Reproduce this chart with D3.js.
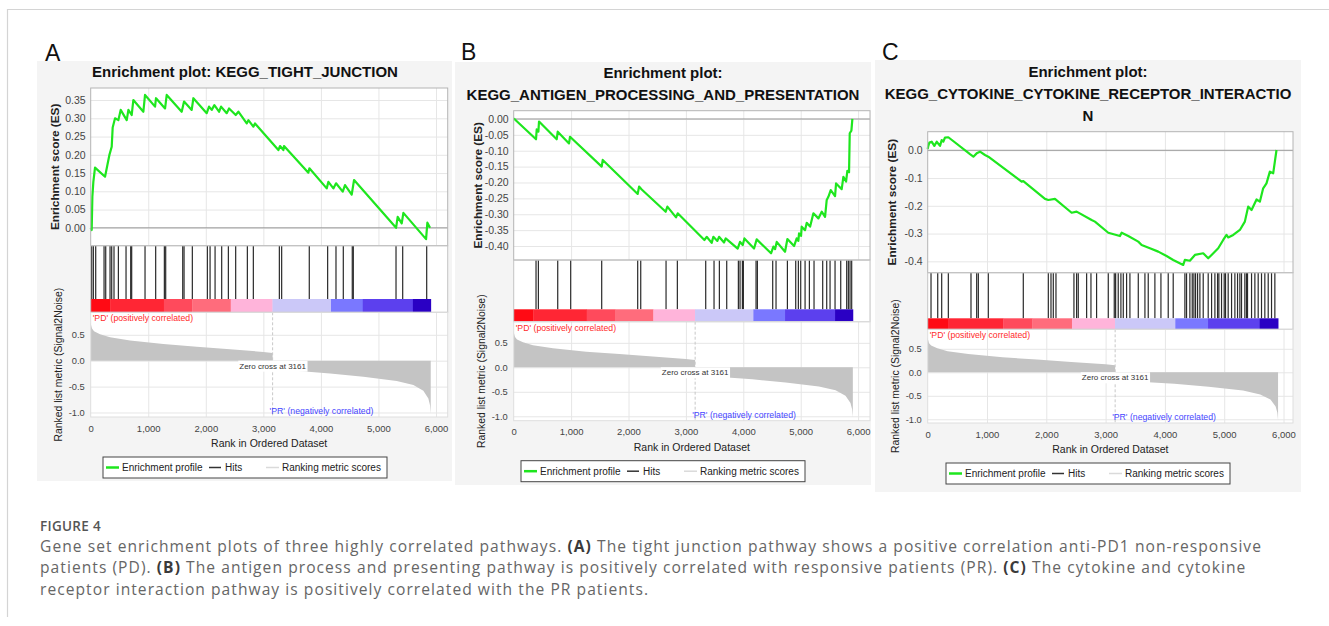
<!DOCTYPE html>
<html>
<head>
<meta charset="utf-8">
<style>
  body { margin:0; background:#fff; }
  text { font-family:"Liberation Sans", Arial, sans-serif; }
  .cap { font-family:"Open Sans", sans-serif; }
</style>
</head>
<body>
<script src="https://d3js.org/d3.v7.min.js"></script>
<script>

// DATA
var xTicks = [0, 1000, 2000, 3000, 4000, 5000, 6000];
var metricTicks = [0.5, 0, -0.5, -1.0];
var esTicksA = [0, 0.05, 0.10, 0.15, 0.20, 0.25, 0.30, 0.35];
var esTicksB = [0, -0.05, -0.10, -0.15, -0.20, -0.25, -0.30, -0.35, -0.40];
var esTicksC = [0, -0.1, -0.2, -0.3, -0.4];
var zeroCross = 3161;

// ranked list metric (Signal2Noise), shared by the three plots
var metricPts = [[0,0.74],[6,0.69],[23,0.62],[58,0.57],[162,0.51],[336,0.45],[684,0.39],[1263,0.32],
  [1842,0.27],[2421,0.22],[3000,0.17],[3160,0.15],[3161,0],[3162,-0.16],[3724,-0.21],[4159,-0.245],
  [4738,-0.31],[5317,-0.39],[5607,-0.47],[5780,-0.58],[5867,-0.73],[5896,-0.86],[5908,-1.02]];

// heat bar band edges (rank)
var bandEdges = [0, 343, 1272, 1765, 2433, 3159, 4175, 4727, 5598, 5910];

var esA = [[0,0],[17,-0.006],[29,0.085],[46,0.126],[75,0.165],[249,0.140],[290,0.172],[324,0.199],[365,0.222],
  [382,0.275],[423,0.300],[481,0.295],[521,0.323],[626,0.295],[655,0.323],[712,0.309],[741,0.350],[915,0.318],
  [944,0.364],[1118,0.332],[1135,0.355],[1292,0.327],[1321,0.364],[1581,0.318],[1622,0.346],[1755,0.323],
  [1784,0.355],[2016,0.314],[2056,0.332],[2103,0.323],[2149,0.336],[2230,0.318],[2265,0.332],[2363,0.314],
  [2404,0.327],[2520,0.309],[2566,0.318],[2711,0.286],[2740,0.295],[2826,0.277],[2855,0.286],[3261,0.213],
  [3290,0.224],[3348,0.213],[3359,0.224],[3782,0.151],[3800,0.163],[4101,0.108],[4130,0.126],[4217,0.108],
  [4263,0.122],[4379,0.099],[4419,0.117],[4535,0.091],[4576,0.131],[5306,0.0],[5334,0.030],[5404,0.012],
  [5433,0.041],[5827,-0.031],[5850,0.014],[5896,0.0]];
var hitsA = [17,46,87,232,261,336,365,405,481,614,695,712,944,1129,1280,1303,1599,1622,1766,2027,2074,
  2161,2276,2392,2519,2722,2826,3278,3318,3798,4117,4262,4389,4545,4563,5305,5421,5838];

var esB = [[0,0],[12,0],[389,-0.064],[401,-0.033],[430,-0.040],[441,-0.008],[749,-0.064],[767,-0.040],
  [964,-0.077],[981,-0.056],[1533,-0.150],[1551,-0.129],[2160,-0.236],[2184,-0.213],[2230,-0.222],
  [2648,-0.292],[2677,-0.276],[2828,-0.310],[2857,-0.297],[3322,-0.381],[3362,-0.371],[3449,-0.390],
  [3478,-0.371],[3548,-0.384],[3577,-0.371],[3664,-0.389],[3693,-0.376],[3902,-0.408],[3943,-0.387],
  [3990,-0.397],[4019,-0.376],[4187,-0.408],[4233,-0.379],[4483,-0.423],[4524,-0.402],[4553,-0.410],
  [4582,-0.387],[4727,-0.418],[4768,-0.378],[4884,-0.400],[4930,-0.376],[4959,-0.384],[4971,-0.360],
  [5006,-0.368],[5017,-0.339],[5075,-0.350],[5105,-0.327],[5163,-0.339],[5221,-0.297],[5308,-0.313],
  [5366,-0.292],[5424,-0.308],[5453,-0.255],[5482,-0.245],[5523,-0.224],[5598,-0.243],[5616,-0.203],
  [5714,-0.221],[5743,-0.182],[5790,-0.197],[5813,-0.163],[5842,-0.168],[5854,-0.045],[5883,-0.037],[5900,0.0]];
var hitsB = [389,430,767,993,1533,2160,2213,2654,2851,3345,3490,3583,3711,3914,3943,3984,4001,4222,4245,
  4512,4570,4768,4913,4959,5000,5076,5151,5232,5383,5453,5511,5598,5697,5801,5830,5859,5888];

var esC = [[0,0.005],[11,0.016],[28,0.028],[67,0.031],[112,0.016],[152,0.031],[208,0.016],[236,0.037],
  [264,0.031],[292,0.046],[348,0.047],[713,-0.014],[770,-0.023],[826,-0.011],[882,-0.005],[966,-0.017],
  [1022,-0.023],[1584,-0.113],[1612,-0.111],[1978,-0.175],[2034,-0.179],[2146,-0.175],[2427,-0.225],
  [2511,-0.221],[2764,-0.251],[2820,-0.257],[3045,-0.297],[3242,-0.309],[3270,-0.297],[3382,-0.309],
  [3551,-0.329],[3607,-0.341],[3747,-0.353],[3888,-0.365],[4028,-0.381],[4140,-0.395],[4309,-0.413],
  [4337,-0.395],[4421,-0.398],[4506,-0.377],[4646,-0.371],[4730,-0.389],[4787,-0.377],[4899,-0.353],
  [4983,-0.323],[5039,-0.305],[5067,-0.314],[5152,-0.305],[5264,-0.287],[5348,-0.257],[5404,-0.203],
  [5461,-0.215],[5545,-0.177],[5601,-0.185],[5657,-0.137],[5713,-0.119],[5770,-0.077],[5826,-0.083],
  [5854,-0.041],[5882,0.001]];
var hitsC = [56,169,236,348,730,826,854,1022,1612,2034,2079,2118,2163,2466,2511,2539,2680,2753,2848,3045,
  3146,3169,3213,3258,3298,3354,3410,3551,3663,3719,3831,3933,4056,4140,4337,4365,4421,4461,4489,4517,
  4551,4590,4646,4730,4787,4843,4888,4910,4955,5000,5022,5067,5124,5180,5225,5264,5292,5348,5376,5393,
  5461,5517,5573,5629,5685,5742,5798,5854];

var titleA = ["Enrichment plot: KEGG_TIGHT_JUNCTION"];
var titleB = ["Enrichment plot:", "KEGG_ANTIGEN_PROCESSING_AND_PRESENTATION"];
var titleC = ["Enrichment plot:", "KEGG_CYTOKINE_CYTOKINE_RECEPTOR_INTERACTIO", "N"];

// LAYOUT
var panels = [
  { name:"A", title:titleA, es:esA, hits:hitsA, esTicks:esTicksA, esFmt:".2f",
    bg:[37,61,452,481], letter:[45,61], cx:245, titleY:[77],
    left:90.7, right:447.7, esTop:88, esBottom:245.7, hitsBottom:299, barBottom:312.3, mBottom:417,
    xMax:6203, esDomain:[-0.049,0.383], mDomain:[-1.087,0.934] },
  { name:"B", title:titleB, es:esB, hits:hitsB, esTicks:esTicksB, esFmt:".2f",
    bg:[455,62,871,485], letter:[461,60], cx:663, titleY:[78,100],
    left:513.7, right:870, esTop:110.7, esBottom:260, hitsBottom:309.3, barBottom:321.7, mBottom:420.7,
    xMax:6207, esDomain:[-0.444,0.026], mDomain:[-1.09,0.931] },
  { name:"C", title:titleC, es:esC, hits:hitsC, esTicks:esTicksC, esFmt:".1f",
    bg:[875,60,1301,492], letter:[882,60], cx:1088, titleY:[77,99,121],
    left:927.7, right:1293, esTop:131.7, esBottom:272.7, hitsBottom:318.3, barBottom:329.3, mBottom:423,
    xMax:6160, esDomain:[-0.441,0.067], mDomain:[-1.079,0.915] }
];

var bandColors = ["#ff0a14","#ff2634","#ff4a5c","#ff6c7c","#ffb4da","#cbc8f8","#7a78ff","#5c40ee","#2a00c4"];
var FONT = "Liberation Sans, Arial, sans-serif";
var loc = d3.formatLocale({decimal:".", thousands:",", grouping:[3], currency:["",""], minus:"-"});

var svg = d3.select("body").append("svg")
  .attr("width", 1329).attr("height", 626).style("display", "block");
svg.append("rect").attr("width", 1329).attr("height", 626).attr("fill", "#fff");

// card border
svg.append("path").attr("d", "M7.5,617 V9.5 H1329")
  .attr("fill", "none").attr("stroke", "#d4d4d4").attr("stroke-width", 1.2);

panels.forEach(drawPanel);

function styleAxis(a, size, color) {
  a.attr("font-family", FONT);
  a.select(".domain").remove();
  a.selectAll(".tick line").attr("stroke", "#e6e6e6");
  a.selectAll(".tick text").attr("font-size", size).attr("fill", color);
}

function drawPanel(p) {
  var g = svg.append("g");
  var w = p.right - p.left;

  g.append("rect").attr("x", p.bg[0]).attr("y", p.bg[1])
    .attr("width", p.bg[2] - p.bg[0]).attr("height", p.bg[3] - p.bg[1]).attr("fill", "#f4f4f4");

  g.append("text").attr("x", p.letter[0]).attr("y", p.letter[1])
    .attr("font-size", 23).attr("fill", "#111").text(p.name);

  p.title.forEach(function(t, i) {
    g.append("text").attr("x", p.cx).attr("y", p.titleY[i]).attr("text-anchor", "middle")
      .attr("font-size", 15).attr("font-weight", "bold").attr("fill", "#111").text(t);
  });

  var x = d3.scaleLinear().domain([0, p.xMax]).range([p.left, p.right]);
  var y = d3.scaleLinear().domain(p.esDomain).range([p.esBottom, p.esTop]);
  var ym = d3.scaleLinear().domain(p.mDomain).range([p.mBottom, p.barBottom]);

  // white plotting areas
  g.append("rect").attr("x", p.left).attr("y", p.esTop).attr("width", w)
    .attr("height", p.mBottom - p.esTop).attr("fill", "#fff");

  // ES panel grid + ticks
  var esAx = g.append("g").attr("transform", "translate(" + p.left + ",0)")
    .call(d3.axisLeft(y).tickValues(p.esTicks).tickFormat(loc.format(p.esFmt)).tickSize(-w).tickPadding(5));
  styleAxis(esAx, 10.5, "#444");
  var esV = g.append("g").attr("transform", "translate(0," + p.esBottom + ")")
    .call(d3.axisBottom(x).tickValues(xTicks.slice(1)).tickSize(-(p.esBottom - p.esTop)).tickFormat(""));
  styleAxis(esV, 9, "#444");

  // metric panel grid + ticks
  var mAx = g.append("g").attr("transform", "translate(" + p.left + ",0)")
    .call(d3.axisLeft(ym).tickValues(metricTicks).tickFormat(loc.format(".1f")).tickSize(-w).tickPadding(6));
  styleAxis(mAx, 9.3, "#444");
  var xAx = g.append("g").attr("transform", "translate(0," + p.mBottom + ")")
    .call(d3.axisBottom(x).tickValues(xTicks).tickFormat(loc.format(",d")).tickSize(-(p.mBottom - p.barBottom)).tickPadding(8));
  styleAxis(xAx, 9.5, "#444");
  xAx.selectAll(".tick line").filter(function(d) { return d === 0; }).remove();

  // zero line of ES
  g.append("line").attr("x1", p.left).attr("x2", p.right).attr("y1", y(0)).attr("y2", y(0))
    .attr("stroke", "#999").attr("stroke-width", 1);

  // ranked list metric area
  var area = d3.area().x(function(d) { return x(d[0]); }).y0(ym(0)).y1(function(d) { return ym(d[1]); });
  g.append("path").datum(metricPts).attr("d", area).attr("fill", "#c4c4c4");

  // zero cross
  g.append("line").attr("x1", x(zeroCross)).attr("x2", x(zeroCross))
    .attr("y1", p.barBottom).attr("y2", p.mBottom)
    .attr("stroke", "#c8c8c8").attr("stroke-dasharray", "3,2");
  var zr = g.append("rect").attr("fill", "#fff");
  var zt = g.append("text").attr("x", x(zeroCross)).attr("y", ym(0) + 8)
    .attr("text-anchor", "middle").attr("font-size", 8).attr("fill", "#333")
    .text("Zero cross at " + zeroCross);
  var zb = zt.node().getBBox();
  zr.attr("x", zb.x - 1).attr("y", ym(0)).attr("width", zb.width + 2).attr("height", 11);

  g.append("text").attr("x", p.left + 2).attr("y", p.barBottom + 9)
    .attr("font-size", 8.7).attr("fill", "#ff2a2a").text("'PD' (positively correlated)");
  g.append("text").attr("x", x(zeroCross) - 3).attr("y", p.mBottom - 3)
    .attr("font-size", 8.7).attr("fill", "#4646ff").text("'PR' (negatively correlated)");

  // hits
  g.append("g").selectAll("line").data(p.hits).enter().append("line")
    .attr("x1", function(d) { return x(d); }).attr("x2", function(d) { return x(d); })
    .attr("y1", p.esBottom).attr("y2", p.hitsBottom)
    .attr("stroke", "#2a2a2a").attr("stroke-width", 1.2);

  // heat bar
  var bands = d3.range(bandEdges.length - 1);
  g.append("g").selectAll("rect").data(bands).enter().append("rect")
    .attr("x", function(i) { return x(bandEdges[i]); })
    .attr("width", function(i) { return x(bandEdges[i + 1]) - x(bandEdges[i]) + 0.3; })
    .attr("y", p.hitsBottom).attr("height", p.barBottom - p.hitsBottom)
    .attr("fill", function(i) { return bandColors[i]; });

  // ES curve
  var line = d3.line().x(function(d) { return x(d[0]); }).y(function(d) { return y(d[1]); });
  g.append("path").datum(p.es).attr("d", line).attr("fill", "none")
    .attr("stroke", "#1ee61e").attr("stroke-width", 2.2).attr("stroke-linejoin", "round");

  // frames
  g.append("rect").attr("x", p.left).attr("y", p.esTop).attr("width", w).attr("height", p.esBottom - p.esTop)
    .attr("fill", "none").attr("stroke", "#b4b4b4");
  g.append("rect").attr("x", p.left).attr("y", p.esBottom).attr("width", w).attr("height", p.barBottom - p.esBottom)
    .attr("fill", "none").attr("stroke", "#c4c4c4");
  g.append("rect").attr("x", p.left).attr("y", p.barBottom).attr("width", w).attr("height", p.mBottom - p.barBottom)
    .attr("fill", "none").attr("stroke", "#dedede");

  // axis titles
  var esMid = (p.esTop + p.esBottom) / 2, mMid = (p.barBottom + p.mBottom) / 2;
  g.append("text").attr("transform", "translate(" + (p.left - 31.5) + "," + esMid + ") rotate(-90)")
    .attr("text-anchor", "middle").attr("font-size", 11.8).attr("font-weight", "bold").attr("fill", "#222")
    .text("Enrichment score (ES)");
  g.append("text").attr("transform", "translate(" + (p.left - 29) + "," + mMid + ") rotate(-90)")
    .attr("text-anchor", "middle").attr("font-size", 10.4).attr("fill", "#222")
    .text("Ranked list metric (Signal2Noise)");
  g.append("text").attr("x", (p.left + p.right) / 2).attr("y", p.mBottom + 30)
    .attr("text-anchor", "middle").attr("font-size", 10.5).attr("fill", "#222")
    .text("Rank in Ordered Dataset");

  // legend
  var L = p.cx - 142, T = p.mBottom + 40, mid = T + 10.5;
  var lg = g.append("g");
  lg.append("rect").attr("x", L).attr("y", T).attr("width", 284).attr("height", 21)
    .attr("fill", "#fff").attr("stroke", "#444");
  lg.append("line").attr("x1", L + 3).attr("x2", L + 16).attr("y1", mid).attr("y2", mid)
    .attr("stroke", "#1ee61e").attr("stroke-width", 2.5);
  lg.append("text").attr("x", L + 19).attr("y", mid + 3.6).attr("font-size", 10).attr("fill", "#222").text("Enrichment profile");
  lg.append("line").attr("x1", L + 106).attr("x2", L + 118).attr("y1", mid).attr("y2", mid)
    .attr("stroke", "#333").attr("stroke-width", 1.5);
  lg.append("text").attr("x", L + 122).attr("y", mid + 3.6).attr("font-size", 10).attr("fill", "#222").text("Hits");
  lg.append("line").attr("x1", L + 163).attr("x2", L + 176).attr("y1", mid).attr("y2", mid)
    .attr("stroke", "#dadada").attr("stroke-width", 1.5);
  lg.append("text").attr("x", L + 179).attr("y", mid + 3.6).attr("font-size", 10).attr("fill", "#222").text("Ranking metric scores");
}

// CAPTION
svg.append("text").attr("class", "cap").attr("x", 40).attr("y", 530.5)
  .attr("font-size", 13.5).attr("font-weight", 600).attr("fill", "#555").attr("letter-spacing", 0.3)
  .text("FIGURE 4");

var capLines = [
  [["Gene set enrichment plots of three highly correlated pathways. ", 0], ["(A)", 1],
   [" The tight junction pathway shows a positive correlation anti-PD1 non-responsive", 0]],
  [["patients (PD). ", 0], ["(B)", 1],
   [" The antigen process and presenting pathway is positively correlated with responsive patients (PR). ", 0],
   ["(C)", 1], [" The cytokine and cytokine", 0]],
  [["receptor interaction pathway is positively correlated with the PR patients.", 0]]
];
var capSize = 15.6, capSpacing = 0;
capLines.forEach(function(parts, i) {
  var t = svg.append("text").attr("class", "cap").attr("x", 40).attr("y", 551.5 + i * 21.7)
    .attr("font-size", capSize).attr("fill", "#666").attr("letter-spacing", capSpacing);
  parts.forEach(function(pt) {
    t.append("tspan").text(pt[0])
      .attr("font-weight", pt[1] ? "bold" : null).attr("fill", pt[1] ? "#3a3a3a" : null);
  });
  if (i === 0) {
    // spread the first line to the measured column width
    var len = t.node().getComputedTextLength();
    capSpacing = (1222 - len) / t.text().length;
    t.attr("letter-spacing", capSpacing);
  }
});

</script>
</body>
</html>
